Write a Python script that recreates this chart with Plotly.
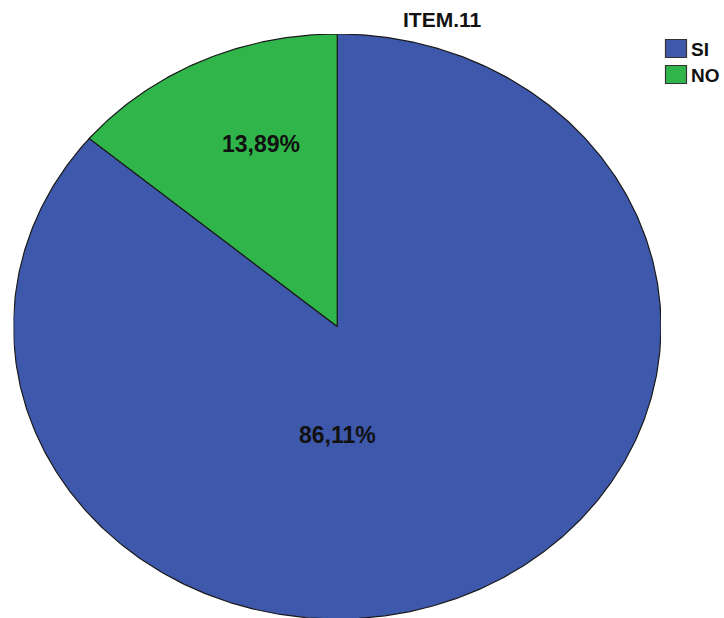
import numpy as np
import plotly.graph_objects as go

# Data
categories = ["SI", "NO"]
values = [86.11, 13.89]
labels = ["86,11%", "13,89%"]
colors = ["#3E58AC", "#2FB54A"]
title_text = "ITEM.11"

W, H = 724, 618
FONT = "Liberation Sans, Arial, sans-serif"

# Plot-area geometry (pixels) for the elliptical pie
left_px, right_px = 13.5, 661.0
top_px = 34.0
ry_px = 292.5

fig = go.Figure()

# Build each wedge from the cumulative shares, clockwise from 12 o'clock
total = sum(values)
start = 0.0
for cat, val, col in zip(categories, values, colors):
    frac = val / total
    t0, t1 = start * 2 * np.pi, (start + frac) * 2 * np.pi
    n = max(int(frac * 720), 8)
    th = np.linspace(t0, t1, n)
    xs = np.concatenate([[0.0], np.sin(th), [0.0]])
    ys = np.concatenate([[0.0], np.cos(th), [0.0]])
    fig.add_trace(go.Scatter(
        x=xs, y=ys, mode="lines", fill="toself", fillcolor=col,
        line=dict(color="#1a1a1a", width=1.2), name=cat,
        hoverinfo="skip", showlegend=False,
    ))
    start += frac

# Label anchors (data units within the unit ellipse)
label_anchor = [(0.0, -0.37), (-0.235, 0.625)]
for txt, (lx, ly) in zip(labels, label_anchor):
    fig.add_annotation(x=lx, y=ly, text="<b>%s</b>" % txt, showarrow=False,
                       font=dict(family=FONT, size=23, color="#111111"),
                       xanchor="center", yanchor="middle")

# Title
fig.add_annotation(xref="paper", yref="paper", x=442 / W, y=1 - 19 / H,
                   text="<b>%s</b>" % title_text, showarrow=False,
                   font=dict(family=FONT, size=21, color="#111111"),
                   xanchor="center", yanchor="middle")

# Legend drawn as swatches with text
leg_x0, leg_y0, sw_w, sw_h, step = 665.5, 39.5, 21, 18, 26
for i, (cat, col) in enumerate(zip(categories, colors)):
    y0 = leg_y0 + i * step
    fig.add_shape(type="rect", xref="paper", yref="paper",
                  x0=leg_x0 / W, x1=(leg_x0 + sw_w) / W,
                  y0=1 - y0 / H, y1=1 - (y0 + sw_h) / H,
                  fillcolor=col, line=dict(color="#333333", width=1.2))
    fig.add_annotation(xref="paper", yref="paper", x=(leg_x0 + sw_w + 2) / W,
                       y=1 - (y0 + sw_h / 2 + 1) / H, text="<b>%s</b>" % cat,
                       showarrow=False, xanchor="left", yanchor="middle",
                       font=dict(family=FONT, size=19, color="#111111"))

y_min = 1 - (H - top_px) / ry_px
fig.update_layout(
    width=W, height=H, margin=dict(l=0, r=0, t=0, b=0),
    paper_bgcolor="white", plot_bgcolor="white",
    xaxis=dict(domain=[left_px / W, right_px / W], range=[-1, 1],
               visible=False, fixedrange=True),
    yaxis=dict(domain=[0, 1 - top_px / H], range=[y_min, 1],
               visible=False, fixedrange=True),
    showlegend=False,
)

fig.write_html("out.html")
